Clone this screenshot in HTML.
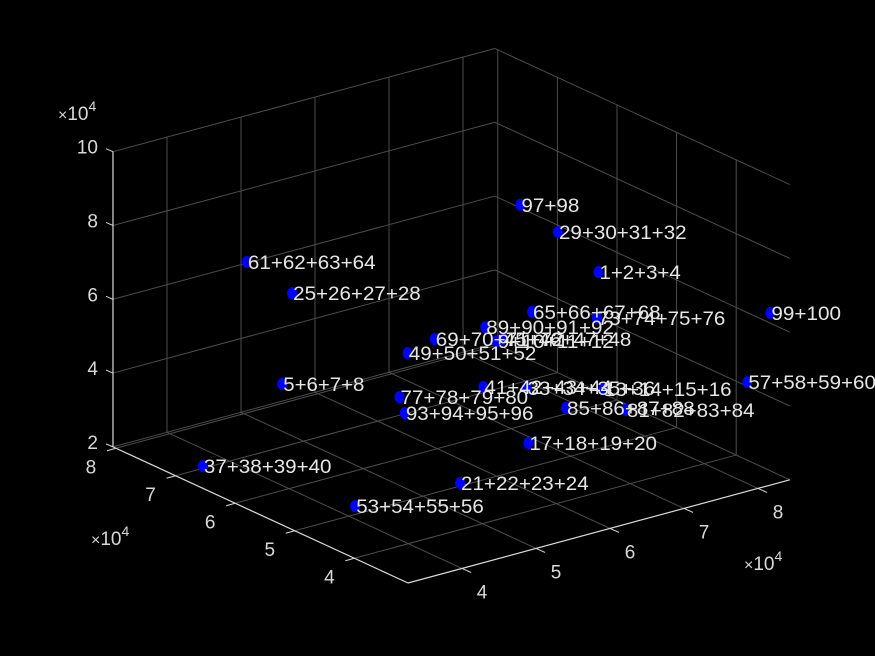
<!DOCTYPE html>
<html><head><meta charset="utf-8"><style>
html,body{margin:0;padding:0;background:#000;}
svg{display:block;font-family:"Liberation Sans",sans-serif;}
</style></head><body>
<svg id="chart" width="875" height="656" viewBox="0 0 875 656" xmlns="http://www.w3.org/2000/svg">
<rect width="875" height="656" fill="#000"/>
<g id="grid"></g>
<g id="axes"></g>
<g id="points"></g>
</svg>
<script>
const labels = ["97+98","29+30+31+32","1+2+3+4","61+62+63+64","25+26+27+28","65+66+67+68","73+74+75+76","99+100","89+90+91+92","69+70+71+72","9+10+11+12","45+46+47+48","49+50+51+52","5+6+7+8","57+58+59+60","41+42+43+44","33+34+35+36","13+14+15+16","77+78+79+80","93+94+95+96","85+86+87+88","81+82+83+84","17+18+19+20","37+38+39+40","21+22+23+24","53+54+55+56"];
const xVals = [6.44,6.94,7.23,4.42,4.91,7.29,7.73,8.28,6.61,5.96,6.79,6.54,6.15,4.51,8.17,6.85,7.20,7.83,5.95,5.70,7.17,7.64,6.54,3.68,5.56,4.24];
const yVals = [5.15,5.14,4.82,7.23,7.08,6.01,5.47,3.24,5.95,5.99,5.98,5.57,6.68,6.75,3.49,6.28,5.99,5.49,6.57,6.17,5.29,4.87,5.14,7.05,5.07,5.19];
const zVals = [9,8,7,7,6,5,5,6.5,5,5,4.5,5,4,4,4.5,3,3,3,3,3,3,3,2.5,2,2,2];
const xTicks = [4,5,6,7,8];
const yTicks = [4,5,6,7,8];
const zTicks = [2,4,6,8,10];

const XMIN=3.27, XMAX=8.43, YMIN=3.1, YMAX=8.05, ZMIN=2, ZMAX=10;
const O=[408,583], EX=[74,-20], EY=[-59.6,-27.5], EZ=[0,-36.9];
function P(x,y,z){return [O[0]+(x-XMIN)*EX[0]+(y-YMIN)*EY[0]+(z-ZMIN)*EZ[0], O[1]+(x-XMIN)*EX[1]+(y-YMIN)*EY[1]+(z-ZMIN)*EZ[1]];}
const NS="http://www.w3.org/2000/svg";
function line(g,a,b,c,w){const l=document.createElementNS(NS,'line');l.setAttribute('x1',a[0]);l.setAttribute('y1',a[1]);l.setAttribute('x2',b[0]);l.setAttribute('y2',b[1]);l.setAttribute('stroke',c);l.setAttribute('stroke-width',w);g.appendChild(l);return l;}
function text(g,x,y,s,anchor,size,fill){const t=document.createElementNS(NS,'text');t.setAttribute('x',x);t.setAttribute('y',y);t.setAttribute('text-anchor',anchor);t.setAttribute('font-size',size);t.setAttribute('fill',fill);t.textContent=s;g.appendChild(t);return t;}
const grid=document.getElementById('grid'), axes=document.getElementById('axes'), pts=document.getElementById('points');
const GC='#4d4d4d';
xTicks.forEach(v=>{
  let l=line(grid,P(v,YMAX,ZMIN),P(v,YMAX,ZMAX),GC,1);
  
  
  l=line(grid,P(v,YMIN,ZMIN),P(v,YMAX,ZMIN),GC,1);
  
  
});
yTicks.forEach(v=>{
  let l=line(grid,P(XMAX,v,ZMIN),P(XMAX,v,ZMAX),GC,1);
  
  
  l=line(grid,P(XMIN,v,ZMIN),P(XMAX,v,ZMIN),GC,1);
  
  
});
zTicks.forEach(v=>{
  let l=line(grid,P(XMIN,YMAX,v),P(XMAX,YMAX,v),GC,1);
  
  
  l=line(grid,P(XMAX,YMAX,v),P(XMAX,YMIN,v),GC,1);
  
  
});
const AC='#d9d9d9', TC='#d9d9d9';
let a=line(axes,P(XMIN,YMIN,ZMIN),P(XMAX,YMIN,ZMIN),AC,1.2);


a=line(axes,P(XMIN,YMIN,ZMIN),P(XMIN,YMAX,ZMIN),AC,1.2);


a=line(axes,P(XMIN,YMAX,ZMIN),P(XMIN,YMAX,ZMAX),AC,1.2);


xTicks.forEach(v=>{
  const p=P(v,YMIN,ZMIN);
  let t=line(axes,p,[p[0]+9,p[1]+4],AC,1);
  
  
  t=text(axes,p[0]+20,p[1]+30,String(v),'middle',19,TC);
  
  
});
yTicks.forEach(v=>{
  const p=P(XMIN,v,ZMIN);
  let t=line(axes,p,[p[0]-9,p[1]+2.5],AC,1);
  
  
  t=text(axes,p[0]-25,p[1]+25,String(v),'middle',19,TC);
  
  
});
zTicks.forEach(v=>{
  const p=P(XMIN,YMAX,v);
  let t=line(axes,p,[p[0]-7,p[1]-3],AC,1);
  
  
  t=text(axes,p[0]-15,p[1]+2,String(v),'end',19,TC);
  
  
});
function expo(x,y,nm){
  const t=document.createElementNS(NS,'text');t.setAttribute('x',x);t.setAttribute('y',y);t.setAttribute('font-size',19);t.setAttribute('fill',TC);
  t.innerHTML='<tspan font-size="16">×</tspan>10<tspan dy="-9" font-size="14">4</tspan>';
  
  
  axes.appendChild(t);
}
expo(58,120,'z-exponent-label');
expo(91,545,'y-exponent-label');
expo(744,570,'x-exponent-label');
labels.forEach((s,i)=>{
  const p=P(xVals[i],yVals[i],zVals[i]);
  const c=document.createElementNS(NS,'ellipse');
  c.setAttribute('cx',p[0]);c.setAttribute('cy',p[1]);c.setAttribute('rx',5);c.setAttribute('ry',6);c.setAttribute('fill','#0000ff');
  
  
  pts.appendChild(c);
});
labels.forEach((s,i)=>{
  const p=P(xVals[i],yVals[i],zVals[i]);
  const t=text(pts,p[0]+1,p[1]+7,s,'start',19,'#e6e6e6');
  t.setAttribute('textLength', String(s.length*11.6));
  t.setAttribute('lengthAdjust','spacingAndGlyphs');
  
  
});
</script>
</body></html>
